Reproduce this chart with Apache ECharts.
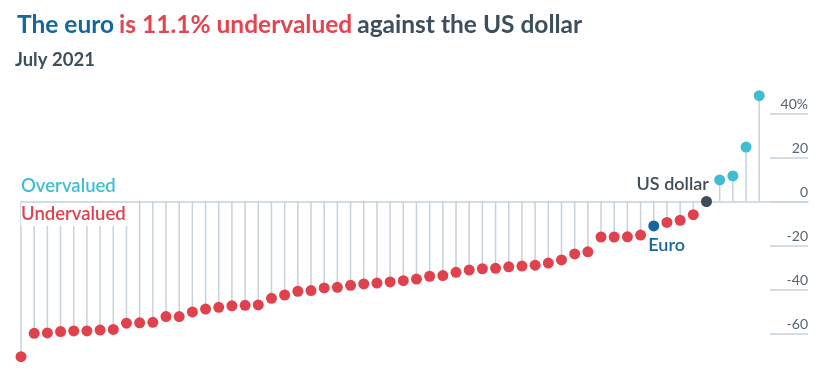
<!DOCTYPE html>
<html>
<head>
<meta charset="utf-8">
<script src="https://cdn.jsdelivr.net/npm/echarts@6/dist/echarts.min.js"></script>
<style>
html,body{margin:0;padding:0;background:#fff;}
#chart{width:834px;height:387px;}
</style>
</head>
<body>
<div id="chart"></div>
<script>
// Currency valuation vs US dollar, %, sorted ascending
const values = [-70.4,-59.8,-59.6,-59.0,-58.7,-58.7,-58.3,-58.0,-55.2,-55.0,-54.8,-52.2,-52.2,-50.1,-48.8,-48.0,-47.3,-47.1,-46.9,-43.9,-42.4,-40.7,-40.4,-39.2,-38.9,-38.0,-37.4,-37.0,-36.5,-35.9,-35.2,-33.9,-33.6,-32.1,-31.1,-30.5,-30.3,-29.6,-29.3,-28.9,-27.9,-26.5,-23.8,-22.8,-16.1,-16.1,-16.0,-15.2,-11.1,-9.5,-8.5,-6.0,0,9.8,11.6,24.7,48.0];
const highlightNames = ['Euro', 'US dollar'];
const highlightIndex = [48, 52];
const yTicks = [-60, -40, -20, 0, 20, 40];

const C = {
  red: '#e0424d', cyan: '#40bdd3', blue: '#16679c', dark: '#3d4d59',
  stem: '#c7d2db', text: '#3d4f5c', axis: '#55646f'
};
const FONT = 'Lato, "Open Sans", sans-serif';

function dotColor(v, i) {
  const h = highlightIndex.indexOf(i);
  if (h === 0) return C.blue;
  if (h === 1) return C.dark;
  return v > 0 ? C.cyan : C.red;
}

const dots = values.map((v, i) => {
  const h = highlightIndex.indexOf(i);
  const d = { value: [i, v], itemStyle: { color: dotColor(v, i), opacity: 1 } };
  if (h === 1) {
    d.label = { show: true, formatter: highlightNames[h], position: [8, -12], align: 'right', verticalAlign: 'middle',
      color: C.dark, fontSize: 18, fontWeight: 600, fontFamily: FONT };
  } else if (h === 0) {
    d.label = { show: true, formatter: highlightNames[h], position: [0, 25], align: 'left', verticalAlign: 'middle',
      color: C.blue, fontSize: 18, fontWeight: 600, fontFamily: FONT };
  }
  return d;
});

const chart = echarts.init(document.getElementById('chart'), null, { renderer: 'canvas' });
chart.setOption({
  animation: false,
  backgroundColor: '#fff',
  title: [{
    left: 17, top: 10.7, padding: 0,
    text: '{a|The euro} {b|is 11.1% undervalued} {c|against the US dollar}',
    textStyle: {
      rich: {
        a: { color: C.blue, fontSize: 24.5, fontWeight: 'bold', fontFamily: FONT, lineHeight: 28 },
        b: { color: '#e3444f', fontSize: 24.5, fontWeight: 'bold', fontFamily: FONT, lineHeight: 28 },
        c: { color: C.text, fontSize: 24.5, fontWeight: 'bold', fontFamily: FONT, lineHeight: 28 }
      }
    }
  }, {
    left: 15, top: 49.4, padding: 0,
    text: 'July 2021',
    textStyle: { color: C.text, fontSize: 18.5, fontWeight: 'bold', fontFamily: FONT, lineHeight: 22 }
  }],
  grid: [
    { left: 21, right: 26, top: 91.25, height: 286.65 },
    { left: 770, right: 26, top: 113.3, height: 220.5 }
  ],
  xAxis: [
    { gridIndex: 0, type: 'value', min: 0, max: 59.7,
      axisLine: { show: true, onZero: true, lineStyle: { color: C.stem, width: 1.5 } },
      axisTick: { show: false }, axisLabel: { show: false }, splitLine: { show: false } },
    { gridIndex: 1, type: 'value', show: false }
  ],
  yAxis: [
    { gridIndex: 0, type: 'value', min: -80, max: 50, show: false, splitLine: { show: false } },
    { gridIndex: 1, type: 'value', position: 'right', min: yTicks[0], max: yTicks[yTicks.length - 1], interval: 20,
      axisLine: { show: false }, axisTick: { show: false },
      splitLine: { show: true, lineStyle: { color: C.stem, width: 1.5 } },
      axisLabel: { inside: true, margin: 0, verticalAlign: 'bottom', padding: [0, 0, 2, 0],
        color: C.axis, fontSize: 14, fontFamily: FONT,
        formatter: v => v === 40 ? '40%' : String(v) } }
  ],
  graphic: [
    { type: 'text', left: 21, top: 177, z: 10,
      style: { text: 'Overvalued', fill: C.cyan, fontSize: 18.5, fontWeight: 600, fontFamily: FONT } },
    { type: 'text', left: 21, top: 203, z: 10,
      style: { text: 'Undervalued', fill: C.red, fontSize: 18.5, fontWeight: 600, fontFamily: FONT,
        backgroundColor: '#fff', padding: [2, 2, 2, 0] } }
  ],
  series: [
    { type: 'bar', xAxisIndex: 0, yAxisIndex: 0, barWidth: 1.5, silent: true,
      itemStyle: { color: C.stem }, data: values.map((v, i) => [i, v]), z: 1 },
    { type: 'scatter', xAxisIndex: 0, yAxisIndex: 0, symbol: 'circle', symbolSize: 11, silent: true,
      itemStyle: { opacity: 1 }, data: dots, z: 3 }
  ]
});
</script>
</body>
</html>
